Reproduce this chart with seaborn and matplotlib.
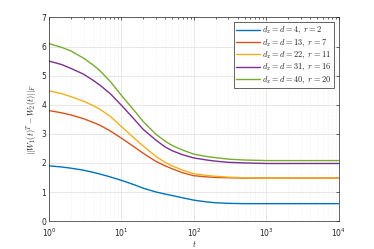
import numpy as np
import pandas as pd
import matplotlib
matplotlib.use("Agg")
import matplotlib.pyplot as plt
import seaborn as sns
from matplotlib.ticker import LogLocator, NullFormatter

t = [1, 1.5, 2, 3, 4, 5, 7, 10, 15, 20, 30, 40, 50, 70, 100, 150, 200, 300, 500, 1000, 2000, 10000]

blue = [1.90, 1.86, 1.82, 1.75, 1.68, 1.62, 1.52, 1.40, 1.25, 1.13, 1.00, 0.93, 0.88, 0.80, 0.72, 0.66, 0.63, 0.61, 0.60, 0.60, 0.60, 0.60]
red = [3.80, 3.72, 3.65, 3.52, 3.40, 3.30, 3.10, 2.85, 2.55, 2.33, 2.05, 1.90, 1.80, 1.66, 1.56, 1.52, 1.50, 1.49, 1.48, 1.48, 1.48, 1.48]
yellow = [4.48, 4.38, 4.28, 4.12, 3.98, 3.85, 3.60, 3.25, 2.85, 2.58, 2.22, 2.02, 1.90, 1.75, 1.63, 1.57, 1.54, 1.51, 1.49, 1.48, 1.48, 1.48]
purple = [5.50, 5.38, 5.25, 5.05, 4.85, 4.68, 4.38, 3.98, 3.50, 3.15, 2.78, 2.55, 2.42, 2.28, 2.17, 2.10, 2.06, 2.02, 2.00, 1.98, 1.98, 1.98]
green = [6.10, 5.97, 5.85, 5.60, 5.38, 5.18, 4.80, 4.32, 3.80, 3.42, 2.98, 2.75, 2.60, 2.44, 2.30, 2.22, 2.18, 2.13, 2.10, 2.08, 2.08, 2.08]

labels = [r"$d_x=d=4,\ r=2$", r"$d_x=d=13,\ r=7$", r"$d_x=d=22,\ r=11$",
          r"$d_x=d=31,\ r=16$", r"$d_x=d=40,\ r=20$"]
colors = ["#0072BD", "#D95319", "#EDB120", "#7E2F8E", "#77AC30"]

rows = []
for lab, vals in zip(labels, [blue, red, yellow, purple, green]):
    for tt, v in zip(t, vals):
        rows.append({"t": tt, "val": v, "case": lab})
df = pd.DataFrame(rows)

sns.set_style("white")
plt.rcParams["mathtext.fontset"] = "cm"
plt.rcParams["font.family"] = ["DejaVu Sans"]

fig = plt.figure(figsize=(3.74, 2.49), dpi=100)
ax = fig.add_axes([0.131, 0.112, 0.775, 0.818])

sns.lineplot(data=df, x="t", y="val", hue="case", hue_order=labels,
             palette=colors, linewidth=1.0, ax=ax)

ax.set_xscale("log")
ax.set_xlim(1, 1e4)
ax.set_ylim(0, 7)
ax.set_yticks(range(8))
ax.xaxis.set_minor_locator(LogLocator(base=10, subs=np.arange(2, 10), numticks=20))
ax.xaxis.set_minor_formatter(NullFormatter())
ax.grid(True, which="major", color="#dddddd", linewidth=0.5)
ax.grid(True, which="minor", axis="x", color="#e4e4e4", linewidth=0.4, linestyle=":")
ax.tick_params(which="both", direction="in", top=True, right=True, labelsize=5.5,
               length=2, width=0.5, pad=2, colors="#262626")
ax.tick_params(axis="x", which="major", pad=4)
ax.tick_params(which="minor", length=1.2)
for s in ax.spines.values():
    s.set_linewidth(0.5)
    s.set_color("#262626")

ax.set_xlabel(r"$t$", fontsize=6, labelpad=0)
ax.set_ylabel(r"$||W_1(t)^T-W_2(t)||_F$", fontsize=6, labelpad=2)

leg = ax.legend(loc="upper right", fontsize=6, frameon=True, fancybox=False,
                edgecolor="#262626", framealpha=1, borderpad=0.3, labelspacing=0.1,
                handlelength=2.8, handletextpad=0.3, borderaxespad=0.6)
leg.get_frame().set_linewidth(0.5)

fig.savefig("out.png", dpi=100)
